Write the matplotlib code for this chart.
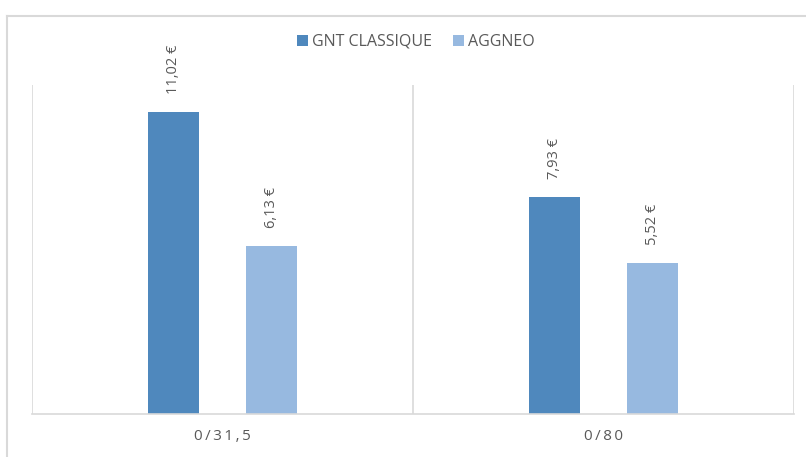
import matplotlib.pyplot as plt
import numpy as np
from matplotlib.lines import Line2D
from matplotlib.patches import Patch

# Data
categories = ['0/31,5', '0/80']
gnt_classique = [11.02, 7.93]
aggneo = [6.13, 5.52]
series_names = ['GNT CLASSIQUE', 'AGGNEO']

dark_blue = '#4F88BD'
light_blue = '#97B9E0'
grid_gray = '#D9D9D9'
text_gray = '#595959'

plt.rcParams['font.family'] = ['Open Sans', 'DejaVu Sans']

fig = plt.figure(figsize=(8.06, 4.57), dpi=100)
ax = fig.add_axes([32 / 806, 1 - 414 / 457, (794 - 32) / 806, (414 - 85) / 457])

x = np.arange(len(categories))
w = 0.134
off = 0.129
b1 = ax.bar(x - off, gnt_classique, w, color=dark_blue, label=series_names[0])
b2 = ax.bar(x + off, aggneo, w, color=light_blue, label=series_names[1])

# value labels, rotated
for bars, vals in [(b1, gnt_classique), (b2, aggneo)]:
    for bar, v in zip(bars, vals):
        ax.annotate(f'{v:.2f} €'.replace('.', ','),
                    (bar.get_x() + bar.get_width() / 2, v),
                    xytext=(0, 13), textcoords='offset points',
                    rotation=90, ha='center', va='bottom',
                    fontsize=10.5, color=text_gray)

ax.set_xlim(-0.5, 1.5)
ax.set_ylim(0, 12)
ax.set_yticks([])
ax.set_xticks(x)
ax.set_xticklabels(['\u2009'.join(c) for c in categories], fontsize=11, color=text_gray)
ax.tick_params(axis='x', length=0, pad=11)

for s in ['top', 'right', 'left']:
    ax.spines[s].set_visible(False)
ax.spines['bottom'].set_color(grid_gray)
ax.spines['bottom'].set_linewidth(1.2)

# category separators
for xv in [-0.5, 0.5, 1.5]:
    ax.axvline(xv, color=grid_gray, linewidth=1.2, zorder=0)

ax.legend(handles=[Patch(facecolor=dark_blue, label=series_names[0]),
                   Patch(facecolor=light_blue, label=series_names[1])],
          loc='center', bbox_to_anchor=(416 / 806, 1 - 42 / 457),
          bbox_transform=fig.transFigure, ncol=2, frameon=False,
          fontsize=11.5, handlelength=0.7, handleheight=0.7,
          handletextpad=0.25, columnspacing=1.3, labelcolor=text_gray)

# outer chart frame (cut off on the right and bottom)
fx = 7.5 / 806
fy = 1 - 15.5 / 457
fig.add_artist(Line2D([fx, fx], [0, fy], color=grid_gray, linewidth=1.5,
                      transform=fig.transFigure))
fig.add_artist(Line2D([fx, 1], [fy, fy], color=grid_gray, linewidth=1.5,
                      transform=fig.transFigure))

fig.savefig('out.png', dpi=100)
